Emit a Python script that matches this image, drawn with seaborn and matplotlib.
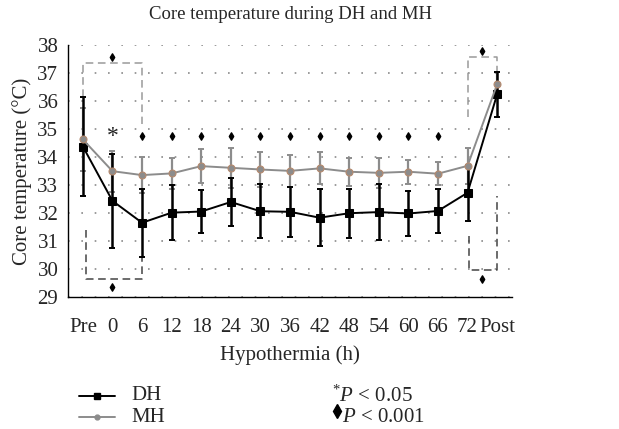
import numpy as np
import matplotlib
matplotlib.use('Agg')
import matplotlib.pyplot as plt
import seaborn as sns
import pandas as pd

# data
time_labels = ['Pre', '0', '6', '12', '18', '24', '30', '36', '42', '48', '54', '60', '66', '72', 'Post']
dh_mean = [34.38, 32.44, 31.66, 32.02, 32.06, 32.40, 32.07, 32.05, 31.84, 32.00, 32.04, 31.99, 32.08, 32.73, 36.24]
dh_sd = [1.76, 1.69, 1.21, 0.97, 0.78, 0.86, 0.96, 0.89, 1.02, 0.87, 0.99, 0.80, 0.78, 0.99, 0.80]
mh_mean = [34.63, 33.50, 33.36, 33.42, 33.68, 33.62, 33.56, 33.51, 33.60, 33.48, 33.44, 33.48, 33.41, 33.69, 36.60]
mh_sd = [1.13, 0.73, 0.63, 0.56, 0.61, 0.72, 0.63, 0.58, 0.57, 0.50, 0.54, 0.43, 0.40, 0.63, 0.44]
star_idx = [1]                       # P < 0.05
diamond_idx = list(range(2, 13))     # P < 0.001

sns.set_style('white')
plt.rcParams['font.family'] = ['Liberation Serif', 'DejaVu Serif']
plt.rcParams['mathtext.fontset'] = 'custom'
plt.rcParams['mathtext.it'] = 'Liberation Serif:italic'
plt.rcParams['mathtext.rm'] = 'Liberation Serif'

x = np.arange(len(time_labels))
df = pd.DataFrame({
    'x': np.concatenate([x, x]),
    'temp': dh_mean + mh_mean,
    'group': ['DH'] * len(x) + ['MH'] * len(x),
})

fig = plt.figure(figsize=(6.19, 4.29), dpi=100)
ax = fig.add_axes([0.11, 0.307, 0.717, 0.588])

mh_col = '#8c8c8c'
ax.errorbar(x, mh_mean, yerr=mh_sd, fmt='none', ecolor=mh_col, elinewidth=1.6, capsize=2.5, capthick=1.4, zorder=2)
ax.errorbar(x, dh_mean, yerr=dh_sd, fmt='none', ecolor='black', elinewidth=1.8, capsize=2.5, capthick=1.4, zorder=3)

sns.lineplot(data=df[df.group == 'DH'], x='x', y='temp', ax=ax, color='black', lw=1.4,
             marker='s', markersize=5.5, markeredgecolor='black', zorder=4, legend=False)
sns.lineplot(data=df[df.group == 'MH'], x='x', y='temp', ax=ax, color=mh_col, lw=1.4,
             marker='o', markersize=5, markerfacecolor=mh_col, markeredgecolor='#b58a6e',
             markeredgewidth=0.8, zorder=5, legend=False)

# significance markers
ax.text(star_idx[0], 34.72, '*', ha='center', va='center', fontsize=17, color='#222222')
ax.scatter(diamond_idx, [34.76] * len(diamond_idx), marker='d', s=14, color='black', zorder=6)
ax.scatter([1, 1, 13.5, 13.5], [37.58, 29.38, 37.8, 29.65], marker='d', s=14, color='black',
           zorder=6, clip_on=False)

# dashed brackets
top_col = '#9a9a9a'
bot_col = '#444444'
ax.plot([0, 0, 2, 2], [36.15, 37.37, 37.37, 35.2], ls=(0, (5, 3)), color=top_col, lw=1.1)
ax.plot([0.1, 0.1, 2, 2], [31.4, 29.66, 29.66, 30.45], ls=(0, (5, 3)), color=bot_col, lw=1.1, clip_on=False)
ax.plot([13, 13, 14, 14], [35.45, 37.57, 37.57, 37.05], ls=(0, (5, 3)), color=top_col, lw=1.1)
ax.plot([13.05, 13.05, 14, 14], [31.2, 29.97, 29.97, 32.6], ls=(0, (5, 3)), color=bot_col, lw=1.1)

# axes styling
ax.set_xlim(-0.5, 14.5)
ax.set_ylim(29, 38)
ax.set_yticks(range(29, 39))
ax.set_xticks(np.arange(-0.5, 15, 1))
ax.set_xticklabels([])
ax.set_xticks(x, minor=True)
ax.set_xticklabels(time_labels, minor=True)
ax.tick_params(axis='x', which='minor', length=0, labelsize=15, pad=15)
ax.tick_params(axis='x', which='major', length=4, width=1, direction='out')
ax.tick_params(axis='y', length=4, width=1, direction='out', labelsize=15, pad=3)
ax.yaxis.grid(True, ls=(0, (1, 7)), color='#8a8a8a', lw=1.2)
ax.xaxis.grid(False)
for s in ['top', 'right']:
    ax.spines[s].set_visible(False)
for s in ['left', 'bottom']:
    ax.spines[s].set_color('black')
    ax.spines[s].set_linewidth(1)

ax.set_title('Core temperature during DH and MH', fontsize=13.5, pad=19)
ax.set_xlabel('Hypothermia (h)', fontsize=15, labelpad=6)
ax.set_ylabel('Core temperature (°C)', fontsize=15, labelpad=4)

# legend drawn in figure coordinates
row1, row2 = 0.077, 0.027
fig.lines.append(plt.Line2D([0.128, 0.157, 0.186], [row1] * 3, color='black', lw=1.4,
                            marker='s', markersize=5, markevery=[1], transform=fig.transFigure))
fig.lines.append(plt.Line2D([0.128, 0.157, 0.186], [row2] * 3, color=mh_col, lw=1.4,
                            marker='o', markersize=3.5, markevery=[1], transform=fig.transFigure))
fig.text(0.213, row1, 'DH', fontsize=15, va='center')
fig.text(0.213, row2, 'MH', fontsize=15, va='center')
fig.text(0.536, row1, r'$^{*}P$ < 0.05', fontsize=15, va='center')
fig.lines.append(plt.Line2D([0.545], [row2 + 0.014], color='black', marker='d', markersize=7,
                            transform=fig.transFigure))
fig.text(0.553, row2, r'$P$ < 0.001', fontsize=15, va='center')

fig.savefig('out.png', dpi=100)
